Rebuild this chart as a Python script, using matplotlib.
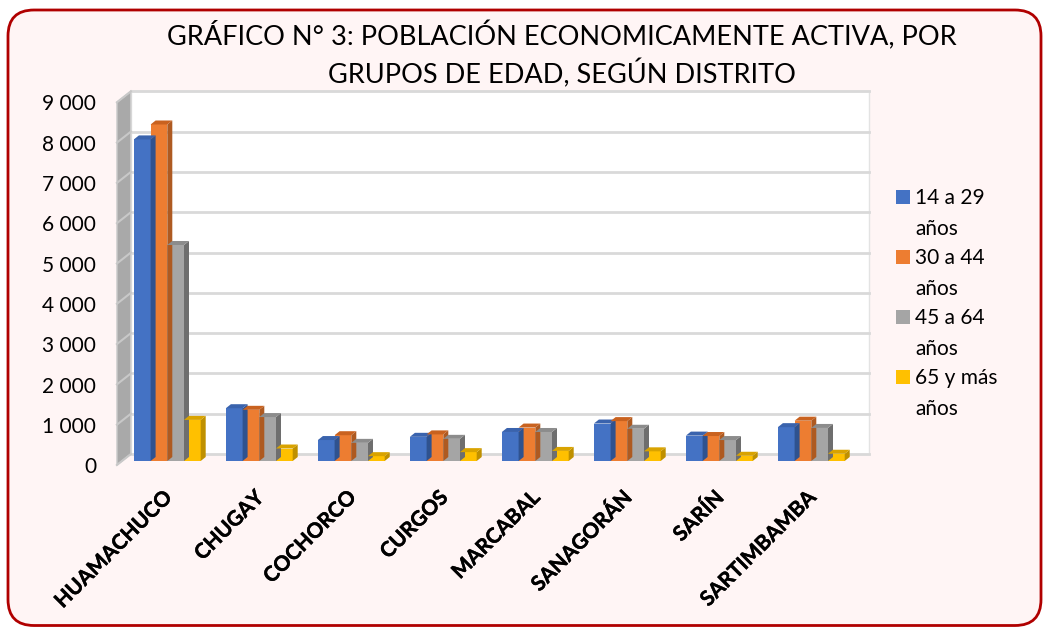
import numpy as np
import matplotlib
matplotlib.use("Agg")
import matplotlib.pyplot as plt
import matplotlib.patheffects as pe
from matplotlib.patches import Polygon, Rectangle, FancyBboxPatch
from matplotlib.transforms import IdentityTransform, ScaledTranslation
from matplotlib.lines import Line2D

# ---------------- data ----------------
districts = ["HUAMACHUCO", "CHUGAY", "COCHORCO", "CURGOS", "MARCABAL",
             "SANAGORÁN", "SARÍN", "SARTIMBAMBA"]
series_names = ["14 a 29\naños", "30 a 44\naños", "45 a 64\naños", "65 y más\naños"]
v_14_29 = [7980, 1310, 520, 600, 720, 930, 630, 840]
v_30_44 = [8350, 1270, 640, 660, 830, 990, 620, 1000]
v_45_64 = [5360, 1090, 450, 550, 720, 800, 520, 820]
v_65_mas = [1020, 310, 120, 220, 250, 240, 130, 180]
yticks = [0, 1000, 2000, 3000, 4000, 5000, 6000, 7000, 8000, 9000]
ytick_labels = ["0", "1 000", "2 000", "3 000", "4 000", "5 000",
                "6 000", "7 000", "8 000", "9 000"]
title = "GRÁFICO N° 3: POBLACIÓN ECONOMICAMENTE ACTIVA, POR\nGRUPOS DE EDAD, SEGÚN DISTRITO"

front_cols = ["#4472C4", "#ED7D31", "#A5A5A5", "#FFC000"]
top_cols = ["#3A63AD", "#C9621F", "#8C8C8C", "#D9A300"]
side_cols = ["#2F528F", "#AE5A21", "#6E6E6E", "#BF9000"]

plt.rcParams["font.family"] = ["Lato", "DejaVu Sans"]

W, H = 1044, 627
fig = plt.figure(figsize=(W / 100, H / 100), dpi=100)
fig.patch.set_facecolor("white")

# outer rounded frame
frame = FancyBboxPatch((8, 1.5), 1033, 615.5,
                       boxstyle="round,pad=0,rounding_size=26",
                       transform=IdentityTransform(), facecolor="#FFF5F5",
                       edgecolor="#B00000", linewidth=2.0, zorder=0)
fig.add_artist(frame)

# axes = plane where the bar fronts stand
base_px = 461
px_per_1000 = 40.3
left_px, right_px = 122, 860
top_px = base_px - 9 * px_per_1000
ax = fig.add_axes([left_px / W, (H - base_px) / H,
                   (right_px - left_px) / W, (base_px - top_px) / H])
ax.set_facecolor("none")
for s in ax.spines.values():
    s.set_visible(False)

spacing_px = 92.0
c0_px = 167.3
ax.set_xlim((left_px - c0_px) / spacing_px, (right_px - c0_px) / spacing_px)
ax.set_ylim(0, 9000)

fig.canvas.draw()
T = ax.transData

back_dx, back_dy = 8.9, 7.0
front_dx, front_dy = -5.1, -4.0
bar_dx, bar_dy = 5.0, 4.0

x0, x1 = ax.get_xlim()

def P(x, y, dx=0.0, dy=0.0):
    px, py = T.transform((x, y))
    return (px + dx, py + dy)

# back wall
bl = P(x0, 0, back_dx, back_dy)
tr = P(x1, 9000, back_dx, back_dy)
fig.add_artist(Rectangle(bl, tr[0] - bl[0], tr[1] - bl[1], transform=IdentityTransform(),
                         facecolor="white", edgecolor="#E3E3E3", linewidth=1.0, zorder=1))
for v in yticks:
    a = P(x0, v, back_dx, back_dy)
    b = P(x1, v, back_dx, back_dy)
    fig.add_artist(Line2D([a[0], b[0]], [a[1], b[1]], transform=IdentityTransform(),
                          color="#D9D9D9", linewidth=2.0, zorder=2))

# side wall
side = [P(x0, 0, front_dx, front_dy), P(x0, 9000, front_dx, front_dy),
        P(x0, 9000, back_dx, back_dy), P(x0, 0, back_dx, back_dy)]
fig.add_artist(Polygon(side, closed=True, transform=IdentityTransform(),
                       facecolor="#A9A9A9", edgecolor="#D0D0D0", linewidth=1.0, zorder=2))
for v in yticks:
    a = P(x0, v, front_dx, front_dy)
    b = P(x0, v, back_dx, back_dy)
    fig.add_artist(Line2D([a[0], b[0]], [a[1], b[1]], transform=IdentityTransform(),
                          color="#C8C8C8", linewidth=1.5, zorder=3))

# bars
series = [v_14_29, v_30_44, v_45_64, v_65_mas]
bw = 16.7 / spacing_px
offsets = [-1.5 * bw, -0.5 * bw, 0.5 * bw, 1.5 * bw]
z = 10
for i in range(len(districts)):
    for k, vals in enumerate(series):
        xc = i + offsets[k]
        xa, xb = xc - bw / 2, xc + bw / 2
        h = vals[i]
        side_poly = [P(xb, 0), P(xb, h), P(xb, h, bar_dx, bar_dy), P(xb, 0, bar_dx, bar_dy)]
        top_poly = [P(xa, h), P(xb, h), P(xb, h, bar_dx, bar_dy), P(xa, h, bar_dx, bar_dy)]
        fig.add_artist(Polygon(side_poly, closed=True, transform=IdentityTransform(),
                               facecolor=side_cols[k], edgecolor="none", zorder=z))
        fig.add_artist(Polygon(top_poly, closed=True, transform=IdentityTransform(),
                               facecolor=top_cols[k], edgecolor="none", zorder=z + 1))
        ax.bar(xc, h, width=bw, color=front_cols[k], zorder=z + 2)
        z += 3

ax.set_zorder(5)
# ticks
ax.set_yticks(yticks, ytick_labels)
ax.tick_params(axis="y", length=0, pad=18.7, labelsize=15, labelcolor="#000000")
for lab in ax.get_yticklabels():
    lab.set_transform(lab.get_transform() + ScaledTranslation(0, -3 / 72, fig.dpi_scale_trans))

ax.set_xticks(range(len(districts)), districts)
ax.tick_params(axis="x", length=0, pad=19)
for lab in ax.get_xticklabels():
    lab.set_rotation(45)
    lab.set_ha("right")
    lab.set_va("top")
    lab.set_rotation_mode("anchor")
    lab.set_fontweight("bold")
    lab.set_fontsize(15)
    lab.set_path_effects([pe.withStroke(linewidth=0.3, foreground="black")])
    lab.set_transform(lab.get_transform() + ScaledTranslation(-4 / 72, 0, fig.dpi_scale_trans))

# title
fig.text(562 / W, 1 - 55 / H, title, ha="center", va="center", fontsize=19.5,
         linespacing=1.35, color="#000000")

# legend (manual)
for k, name in enumerate(series_names):
    yc = 197 + k * 60
    fig.add_artist(Rectangle((896, H - yc - 7), 14, 14, transform=IdentityTransform(),
                             facecolor=front_cols[k], edgecolor="none", zorder=20))
    fig.text(915 / W, 1 - (yc - 9) / H, name, ha="left", va="top", fontsize=15,
             linespacing=1.66, color="#000000")

fig.savefig("out.png", dpi=100)
